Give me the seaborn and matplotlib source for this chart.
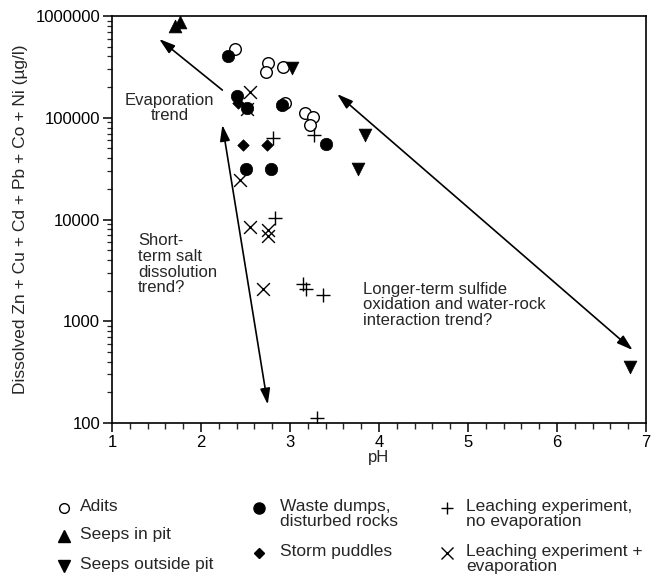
import matplotlib
matplotlib.use("Agg")
import matplotlib.pyplot as plt
from matplotlib.lines import Line2D
from matplotlib.ticker import FixedLocator, FuncFormatter, LogLocator, MultipleLocator, NullFormatter
import numpy as np
import pandas as pd
import seaborn as sns

# ---- data: pH and dissolved base-metal sum (ug/l) per sample type ----
adits_ph = [2.38, 2.75, 2.73, 2.92, 2.94, 3.17, 3.26, 3.22]
adits_metals = [474000, 345000, 281000, 316000, 140000, 111000, 102000, 85000]

pit_seeps_ph = [1.71, 1.76]
pit_seeps_metals = [795000, 873000]

outside_seeps_ph = [3.02, 3.84, 3.76, 6.82]
outside_seeps_metals = [308000, 67700, 31300, 355]

waste_ph = [2.30, 2.40, 2.52, 2.91, 3.40, 2.51, 2.79]
waste_metals = [404000, 164000, 125000, 133000, 55000, 31300, 31300]

puddles_ph = [2.42, 2.47, 2.74]
puddles_metals = [140000, 54000, 54000]

leach_noevap_ph = [3.27, 2.81, 2.83, 3.15, 3.18, 3.37, 3.30]
leach_noevap_metals = [67700, 63000, 10400, 2320, 2080, 1810, 112]

leach_evap_ph = [2.55, 2.52, 2.44, 2.55, 2.75, 2.75, 2.70]
leach_evap_metals = [179000, 122000, 24400, 8440, 7890, 6890, 2080]

y_ticks = [100, 1000, 10000, 100000, 1000000]
x_ticks = [1, 2, 3, 4, 5, 6, 7]

groups = [
    ("Adits", adits_ph, adits_metals),
    ("Seeps in pit", pit_seeps_ph, pit_seeps_metals),
    ("Seeps outside pit", outside_seeps_ph, outside_seeps_metals),
    ("Waste dumps,\ndisturbed rocks", waste_ph, waste_metals),
    ("Storm puddles", puddles_ph, puddles_metals),
    ("Leaching experiment,\nno evaporation", leach_noevap_ph, leach_noevap_metals),
    ("Leaching experiment +\nevaporation", leach_evap_ph, leach_evap_metals),
]
df = pd.concat(
    [pd.DataFrame({"source": name, "pH": ph, "metals": m}) for name, ph, m in groups],
    ignore_index=True,
)

# ---- marker styling per sample type ----
styles = {
    "Adits": dict(marker="o", s=70, facecolor="white", edgecolor="black", linewidth=1.0),
    "Seeps in pit": dict(marker="^", s=85, facecolor="black", edgecolor="black", linewidth=0.5),
    "Seeps outside pit": dict(marker="v", s=85, facecolor="black", edgecolor="black", linewidth=0.5),
    "Waste dumps,\ndisturbed rocks": dict(marker="o", s=80, facecolor="black", edgecolor="black", linewidth=0.5),
    "Storm puddles": dict(marker="D", s=34, facecolor="black", edgecolor="black", linewidth=0.5),
    "Leaching experiment,\nno evaporation": dict(marker="+", s=115, color="black", linewidth=1.0),
    "Leaching experiment +\nevaporation": dict(marker="x", s=85, color="black", linewidth=1.0),
}

sns.set_style("ticks")
plt.rcParams["font.family"] = ["Liberation Sans", "DejaVu Sans"]
plt.rcParams["axes.linewidth"] = 1.2

W, H = 660, 578
fig = plt.figure(figsize=(W / 100, H / 100), dpi=100)
ax = fig.add_axes([112 / W, 1 - 423 / H, (646 - 112) / W, (423 - 16) / H])

draw_order = [
    "Adits",
    "Waste dumps,\ndisturbed rocks",
    "Storm puddles",
    "Seeps in pit",
    "Seeps outside pit",
    "Leaching experiment,\nno evaporation",
    "Leaching experiment +\nevaporation",
]
for name in draw_order:
    sub = df[df["source"] == name]
    sns.scatterplot(data=sub, x="pH", y="metals", ax=ax, legend=False, zorder=3, **styles[name])

ax.set_yscale("log")
ax.set_xlim(1, 7)
ax.set_ylim(100, 1000000)

ax.xaxis.set_major_locator(FixedLocator(x_ticks))
ax.xaxis.set_minor_locator(MultipleLocator(0.2))
ax.yaxis.set_major_locator(FixedLocator(y_ticks))
ax.yaxis.set_minor_locator(LogLocator(base=10, subs=np.arange(2, 10)))
ax.yaxis.set_major_formatter(FuncFormatter(lambda v, p: f"{int(round(v))}"))
ax.yaxis.set_minor_formatter(NullFormatter())

ax.tick_params(axis="both", which="major", direction="out", length=6.5, width=1.1,
               labelsize=12, colors="black", pad=2)
ax.tick_params(axis="x", which="minor", direction="out", length=4, width=1.0)
ax.tick_params(axis="y", which="minor", direction="out", length=3.5, width=0.9)
for sp in ax.spines.values():
    sp.set_visible(True)
    sp.set_color("black")

ax.set_xlabel("pH", fontsize=12, labelpad=0)
ax.set_ylabel("Dissolved Zn + Cu + Cd + Pb + Co + Ni (\u00b5g/l)", fontsize=12.5, labelpad=5)

# ---- trend arrows ----
one_way = dict(arrowstyle="-|>,head_length=0.8,head_width=0.25", color="black",
               lw=1.2, shrinkA=0, shrinkB=0, mutation_scale=12)
two_way = dict(arrowstyle="<|-|>,head_length=0.8,head_width=0.25", color="black",
               lw=1.2, shrinkA=0, shrinkB=0, mutation_scale=12)
ax.annotate("", xy=(1.53, 594000), xytext=(2.24, 187000), arrowprops=one_way)
ax.annotate("", xy=(2.24, 85000), xytext=(2.75, 152), arrowprops=two_way)
ax.annotate("", xy=(3.53, 171000), xytext=(6.85, 521), arrowprops=two_way)

ax.text(1.65, 125000, "Evaporation\ntrend", ha="center", va="center", fontsize=12,
        linespacing=1.05)
ax.text(1.29, 7300, "Short-\nterm salt\ndissolution\ntrend?", ha="left", va="top",
        fontsize=12, linespacing=1.05)
ax.text(3.82, 2450, "Longer-term sulfide\noxidation and water-rock\ninteraction trend?",
        ha="left", va="top", fontsize=12, linespacing=1.05)

# ---- legend block below the axes ----
def fig_xy(px, py):
    return px / W, 1 - py / H

legend_items = [
    ("Adits", 64, 80, 508),
    ("Seeps in pit", 64, 80, 536),
    ("Seeps outside pit", 64, 80, 566),
    ("Waste dumps,\ndisturbed rocks", 259, 280, 508),
    ("Storm puddles", 259, 280, 553),
    ("Leaching experiment,\nno evaporation", 447, 466, 508),
    ("Leaching experiment +\nevaporation", 447, 466, 553),
]
for name, mx, tx, ty in legend_items:
    st = styles[name]
    if st["marker"] in ("+", "x"):
        h = Line2D([mx / W], [1 - ty / H], transform=fig.transFigure, marker=st["marker"],
                   linestyle="none", color="black", markersize=8, markeredgewidth=1.0)
    else:
        ms = {"o": 8, "^": 8.5, "v": 8.5, "D": 5.5}[st["marker"]]
        if name == "Adits":
            ms = 7
        h = Line2D([mx / W], [1 - ty / H], transform=fig.transFigure, marker=st["marker"],
                   linestyle="none", markerfacecolor=st["facecolor"],
                   markeredgecolor="black", markersize=ms, markeredgewidth=1.0)
    fig.add_artist(h)
    x, y = fig_xy(tx, ty - 9)
    fig.text(x, y, name, ha="left", va="top", fontsize=12.5, linespacing=1.0)

fig.savefig("out.png", dpi=100, facecolor="white")
